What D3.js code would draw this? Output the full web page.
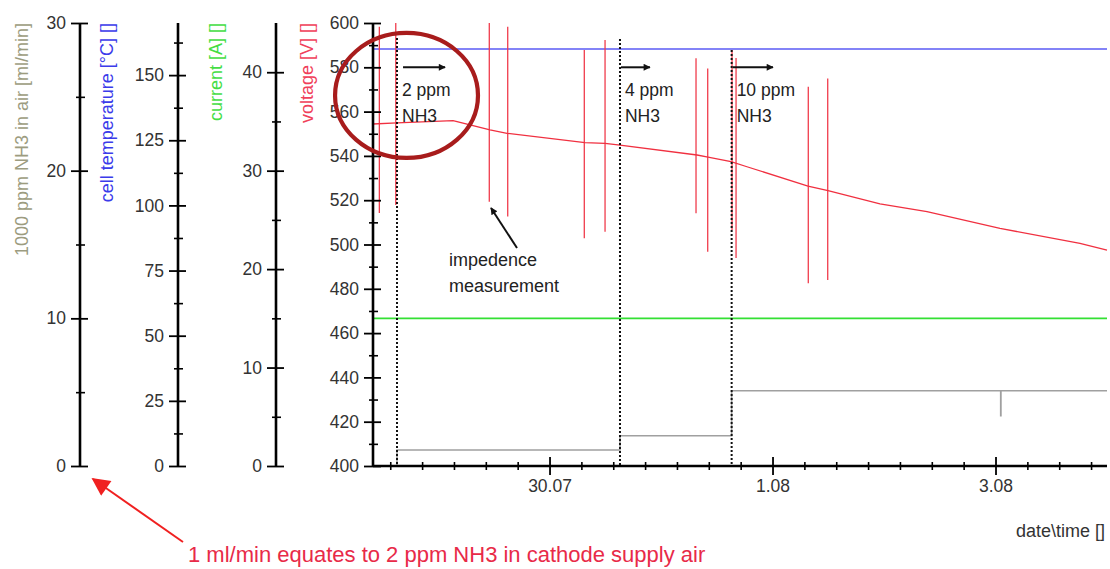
<!DOCTYPE html>
<html><head><meta charset="utf-8">
<script src="https://cdn.jsdelivr.net/npm/d3@7"></script>
<style>
body{margin:0;background:#fff;}
svg{display:block;}
text{font-family:"Liberation Sans",Arial,sans-serif;}
</style>
</head><body>
<svg id="c" width="1110" height="569"></svg>
<script>
// ---------- data ----------
const timeDomain = ["2009-07-28 10:00", "2009-08-04 00:00"];
const xMajorTicks = ["2009-07-30 00:00", "2009-08-01 00:00", "2009-08-03 00:00"];
const xTickLabels = ["30.07", "1.08", "3.08"];

const nh3Ticks = [0, 10, 20, 30];
const nh3Minor = [5, 15, 25];
const tempTicks = [0, 25, 50, 75, 100, 125, 150];
const tempMinor = [12.5, 37.5, 62.5, 87.5, 112.5, 137.5, 162.5];
const currentTicks = [0, 10, 20, 30, 40];
const currentMinor = [5, 15, 25, 35];
const voltTicks = [400, 420, 440, 460, 480, 500, 520, 540, 560, 580, 600];
const voltMinor = [410, 430, 450, 470, 490, 510, 530, 550, 570, 590];

// cell temperature (blue) and current (green): constant
const tempTimes = ["2009-07-28 10:00", "2009-08-04 00:00"];
const tempValues = [160, 160];
const currentTimes = ["2009-07-28 10:00", "2009-08-04 00:00"];
const currentValues = [15, 15];

// voltage baseline trend (red)
const voltTimes = ["2009-07-28 10:00", "2009-07-28 15:10", "2009-07-29 03:14", "2009-07-29 06:53",
  "2009-07-29 11:11", "2009-07-29 14:51", "2009-07-30 07:38", "2009-07-30 11:57", "2009-07-30 15:10",
  "2009-07-31 07:45", "2009-07-31 10:07", "2009-07-31 15:04", "2009-07-31 18:30", "2009-08-01 07:38",
  "2009-08-01 11:57", "2009-08-01 23:08", "2009-08-02 09:15", "2009-08-03 00:58", "2009-08-03 18:11",
  "2009-08-04 00:00"];
const voltValues = [554.4, 554.9, 555.9, 554.0, 551.7, 550.2, 546.0, 545.7, 544.9,
  540.4, 539.4, 537.4, 535.1, 526.4, 524.3, 518.3, 514.8, 507.3, 500.5, 497.5];

// impedance measurement spikes on the voltage trace
const spikeTimes = ["2009-07-28 11:22", "2009-07-28 14:54", "2009-07-29 11:02", "2009-07-29 15:00",
  "2009-07-30 07:29", "2009-07-30 11:57", "2009-07-31 07:32", "2009-07-31 10:03", "2009-07-31 15:17",
  "2009-07-31 16:09", "2009-08-01 07:42", "2009-08-01 11:53"];
const spikeHigh = [598.3, 600, 600, 598.3, 587.8, 592.3, 584.1, 579.5, 587.8, 584.2, 571.2, 575.0];
const spikeLow  = [514.2, 517.8, 519.3, 512.6, 502.8, 505.8, 514.1, 496.7, 506.5, 493.9, 482.5, 484.0];

// NH3 flow (grey), step after
const nh3Times = ["2009-07-28 10:00", "2009-07-28 15:10", "2009-07-30 15:10", "2009-07-31 15:12",
  "2009-08-03 01:07", "2009-08-03 01:10", "2009-08-04 00:00"];
const nh3Values = [0, 1.08, 2.05, 5.1, 3.4, 5.1, 5.1];

// NH3 dosing events
const eventTimes = ["2009-07-28 15:10", "2009-07-30 15:10", "2009-07-31 15:12"];
const eventTop = [593.2, 592.8, 587.8];
const eventLabels = ["2 ppm", "4 ppm", "10 ppm"];
const eventArrowStart = ["2009-07-28 16:15", "2009-07-30 15:10", "2009-07-31 15:12"];
const eventArrowEnd = ["2009-07-29 01:31", "2009-07-30 21:37", "2009-08-01 00:06"];

// ---------- setup ----------
const parse = d3.timeParse("%Y-%m-%d %H:%M");
const svg = d3.select("#c");
const FONT = '"Liberation Sans", Arial, sans-serif';
const yTop = 23, yBottom = 466;
const plotLeft = 373, plotRight = 1107;

const x = d3.scaleTime().domain(timeDomain.map(parse)).range([plotLeft, plotRight]);
const yNH3 = d3.scaleLinear().domain([0, 30]).range([yBottom, yTop]);
const yTemp = d3.scaleLinear().domain([0, 170]).range([yBottom, yTop]);
const yCur = d3.scaleLinear().domain([0, 45]).range([yBottom, yTop]);
const yVolt = d3.scaleLinear().domain([400, 600]).range([yBottom, yTop]);

const defs = svg.append("defs");
function marker(id, color, w, h) {
  defs.append("marker").attr("id", id).attr("viewBox", "0 0 10 10")
    .attr("refX", 9).attr("refY", 5).attr("markerWidth", w).attr("markerHeight", h)
    .attr("markerUnits", "userSpaceOnUse").attr("orient", "auto")
    .append("path").attr("d", "M0,0 L10,5 L0,10 Z").attr("fill", color);
}
marker("ahBlack", "#111", 12, 7);
marker("ahRed", "#f02020", 22, 18);

// ---------- series ----------
const lineGen = (ys) => d3.line().x(d => x(d[0])).y(d => ys(d[1]));
const zipT = (ts, vs) => ts.map((t, i) => [parse(t), vs[i]]);

svg.append("path").datum(zipT(tempTimes, tempValues))
  .attr("d", lineGen(yTemp)).attr("fill", "none").attr("stroke", "#5a5af5").attr("stroke-width", 1.4);
svg.append("path").datum(zipT(currentTimes, currentValues))
  .attr("d", lineGen(yCur)).attr("fill", "none").attr("stroke", "#33e033").attr("stroke-width", 1.8);
svg.append("path").datum(zipT(nh3Times, nh3Values))
  .attr("d", lineGen(yNH3).curve(d3.curveStepAfter)).attr("fill", "none")
  .attr("stroke", "#a0a0a0").attr("stroke-width", 1.6);

svg.append("g").selectAll("line").data(spikeTimes).join("line")
  .attr("x1", d => x(parse(d))).attr("x2", d => x(parse(d)))
  .attr("y1", (d, i) => yVolt(spikeHigh[i])).attr("y2", (d, i) => yVolt(spikeLow[i]))
  .attr("stroke", "#f03c4c").attr("stroke-width", 1.3);
svg.append("path").datum(zipT(voltTimes, voltValues))
  .attr("d", lineGen(yVolt)).attr("fill", "none").attr("stroke", "#f03040").attr("stroke-width", 1.3);

// event dotted lines
svg.append("g").selectAll("line").data(eventTimes).join("line")
  .attr("x1", d => x(parse(d))).attr("x2", d => x(parse(d)))
  .attr("y1", (d, i) => yVolt(eventTop[i])).attr("y2", yBottom)
  .attr("stroke", "#111").attr("stroke-width", 2).attr("stroke-dasharray", "2,2");

// ---------- axes ----------
function vAxis(xpos, scale, majors, minors) {
  const g = svg.append("g").attr("transform", `translate(${xpos},0)`);
  g.call(d3.axisLeft(scale).tickValues(minors).tickFormat("").tickSizeOuter(0).tickSizeInner(4))
    .call(s => s.select(".domain").remove())
    .selectAll(".tick line").attr("x1", 5).attr("x2", -4).attr("stroke", "#000").attr("stroke-width", 1.6);
  const g2 = svg.append("g").attr("transform", `translate(${xpos},0)`);
  g2.call(d3.axisLeft(scale).tickValues(majors).tickSizeOuter(0).tickSizeInner(9).tickPadding(5));
  g2.select(".domain").attr("stroke", "#000").attr("stroke-width", 2.6)
    .attr("d", `M0,${yTop}V${yBottom}`);
  g2.selectAll(".tick line").attr("x1", 8).attr("x2", -9).attr("stroke", "#000").attr("stroke-width", 1.8);
  g2.selectAll(".tick text").attr("font-size", 17.5).attr("font-family", FONT).attr("fill", "#333");
}
vAxis(80, yNH3, nh3Ticks, nh3Minor);
vAxis(178, yTemp, tempTicks, tempMinor);
vAxis(276, yCur, currentTicks, currentMinor);
vAxis(plotLeft, yVolt, voltTicks, voltMinor);

// x axis
const majorDates = xMajorTicks.map(parse);
const step = 2 / 7 * 24 * 3600 * 1000;
const d0 = x.domain()[0], d1 = x.domain()[1];
const minorDates = [];
for (let t = majorDates[0].getTime(); t >= d0.getTime(); t -= step) minorDates.push(new Date(t));
for (let t = majorDates[0].getTime() + step; t <= d1.getTime(); t += step) minorDates.push(new Date(t));
const minorOnly = minorDates.filter(d => !majorDates.some(m => Math.abs(m - d) < 60000));

const gxm = svg.append("g").attr("transform", `translate(0,${yBottom})`);
gxm.call(d3.axisBottom(x).tickValues(minorOnly).tickFormat("").tickSizeOuter(0).tickSizeInner(4))
  .call(s => s.select(".domain").remove())
  .selectAll(".tick line").attr("y1", -4).attr("y2", 4).attr("stroke", "#000").attr("stroke-width", 1.6);
const gx = svg.append("g").attr("transform", `translate(0,${yBottom})`);
gx.call(d3.axisBottom(x).tickValues(majorDates).tickFormat((d, i) => xTickLabels[i])
  .tickSizeOuter(0).tickSizeInner(9).tickPadding(5));
gx.select(".domain").attr("stroke", "#000").attr("stroke-width", 2.6)
  .attr("d", `M${plotLeft},0H${plotRight}`);
gx.selectAll(".tick line").attr("y1", -9).attr("y2", 9).attr("stroke", "#000").attr("stroke-width", 1.8);
gx.selectAll(".tick text").attr("font-size", 17.5).attr("font-family", FONT).attr("fill", "#333");

// axis titles
const titles = [
  {text: "1000 ppm NH3 in air [ml/min]", x: 28, color: "#9c9c80"},
  {text: "cell temperature [°C] []", x: 113, color: "#3b3bea"},
  {text: "current [A] []", x: 222, color: "#44dd44"},
  {text: "voltage [V] []", x: 313, color: "#f0405a"}
];
svg.append("g").selectAll("text").data(titles).join("text")
  .attr("transform", d => `translate(${d.x},${yTop}) rotate(-90)`)
  .attr("text-anchor", "end").attr("font-size", 18).attr("fill", d => d.color)
  .text(d => d.text);

svg.append("text").attr("x", 1105).attr("y", 537).attr("text-anchor", "end")
  .attr("font-size", 18).attr("fill", "#333").text("date\\time []");

// ---------- annotations ----------
svg.append("g").selectAll("line").data(eventArrowStart).join("line")
  .attr("x1", d => x(parse(d)) + 1).attr("x2", (d, i) => x(parse(eventArrowEnd[i])))
  .attr("y1", yVolt(580)).attr("y2", yVolt(580))
  .attr("stroke", "#111").attr("stroke-width", 2).attr("marker-end", "url(#ahBlack)");

const labG = svg.append("g").attr("font-size", 17.5).attr("fill", "#222");
labG.selectAll("text.ppm").data(eventLabels).join("text").attr("class", "ppm")
  .attr("x", (d, i) => x(parse(eventTimes[i])) + 5).attr("y", yVolt(567)).text(d => d);
labG.selectAll("text.nh").data(eventLabels).join("text").attr("class", "nh")
  .attr("x", (d, i) => x(parse(eventTimes[i])) + 5).attr("y", yVolt(555.4)).text("NH3");

// impedance note
const impTextT = parse("2009-07-29 02:22");
labG.append("text").attr("x", x(impTextT)).attr("y", yVolt(490.3)).attr("font-size", 18).text("impedence");
labG.append("text").attr("x", x(impTextT)).attr("y", yVolt(478.6)).attr("font-size", 18).text("measurement");
svg.append("line")
  .attr("x1", x(parse("2009-07-29 17:00"))).attr("y1", yVolt(498.4))
  .attr("x2", x(parse("2009-07-29 11:24"))).attr("y2", yVolt(516.5))
  .attr("stroke", "#111").attr("stroke-width", 2).attr("marker-end", "url(#ahBlack)");

// red circle highlight
const eL = x(parse("2009-07-28 01:50")), eR = x(parse("2009-07-29 08:36"));
const eT = yVolt(595.5), eB = yVolt(539.1);
svg.append("ellipse").attr("cx", (eL + eR) / 2).attr("cy", (eT + eB) / 2)
  .attr("rx", (eR - eL) / 2).attr("ry", (eB - eT) / 2)
  .attr("fill", "none").attr("stroke", "#a81c1c").attr("stroke-width", 4.2);

// bottom note with arrow
svg.append("line").attr("x1", 183).attr("y1", 542).attr("x2", 93).attr("y2", 479)
  .attr("stroke", "#f02020").attr("stroke-width", 2).attr("marker-end", "url(#ahRed)");
svg.append("text").attr("x", 188).attr("y", 562).attr("font-size", 22).attr("fill", "#e82a48")
  .text("1 ml/min equates to 2 ppm NH3 in cathode supply air");
</script>
</body></html>
